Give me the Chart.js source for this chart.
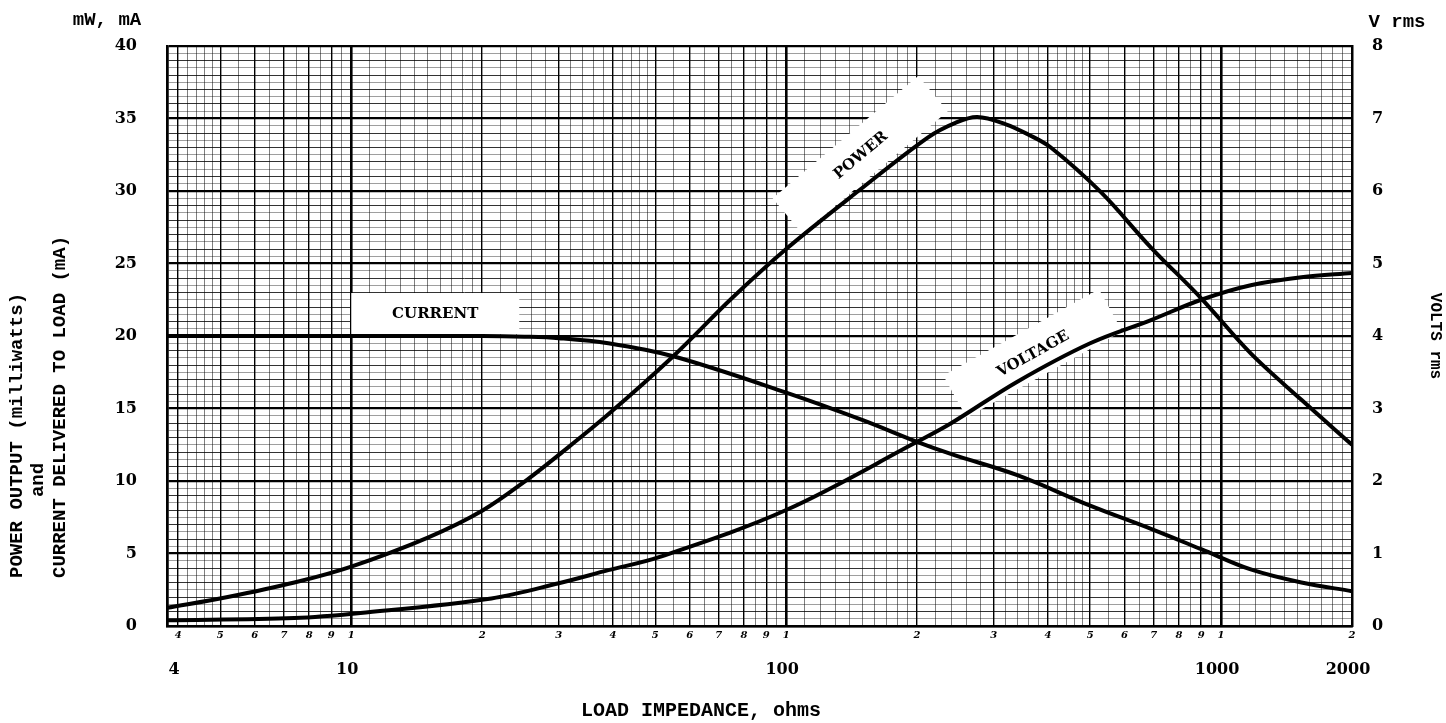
<!DOCTYPE html>
<html>
<head>
<meta charset="utf-8">
<script src="https://cdn.jsdelivr.net/npm/chart.js@4.4.0/dist/chart.umd.min.js"></script>
<style>
html,body{margin:0;padding:0;background:#fff;}
canvas{display:block;}
</style>
</head>
<body>
<canvas id="c" width="1446" height="723" style="width:1446px;height:723px"></canvas>
<script>
// ---------------- data ----------------
const powerLoad   = [3.77, 5.2, 7.4, 10, 15, 20, 25.4, 30, 39, 55, 75, 100, 148, 212, 245, 275, 320, 360, 406, 530, 690, 900, 1170, 1530, 2000];
const powerMW     = [1.25, 2.0, 3.0, 4.1, 6.1, 7.95, 10.1, 11.8, 14.6, 18.6, 22.6, 26.0, 30.1, 33.7, 34.7, 35.1, 34.6, 33.9, 33.0, 29.9, 26.1, 22.6, 18.8, 15.6, 12.5];

const currentLoad = [3.77, 10, 20, 25, 30, 39, 55, 100, 150, 200, 240, 340, 500, 690, 900, 1170, 1530, 2000];
const currentMA   = [20.0, 20.0, 20.0, 19.95, 19.85, 19.5, 18.6, 16.1, 14.2, 12.7, 11.85, 10.4, 8.3, 6.7, 5.3, 3.9, 3.0, 2.4];

const voltageLoad = [3.77, 7.4, 10.5, 21, 30, 39, 51, 100, 200, 240, 340, 500, 690, 900, 1170, 1530, 2000];
const voltageV    = [0.08, 0.11, 0.18, 0.38, 0.59, 0.77, 0.95, 1.6, 2.54, 2.8, 3.37, 3.9, 4.22, 4.5, 4.7, 4.81, 4.87];

const smallTickValues = [4,5,6,7,8,9,10,20,30,40,50,60,70,80,90,100,200,300,400,500,600,700,800,900,1000,2000];
const smallTickLabels = ['4','5','6','7','8','9','1','2','3','4','5','6','7','8','9','1','2','3','4','5','6','7','8','9','1','2'];
const bigTickValues   = [4, 10, 100, 1000, 2000];
const bigTickLabels   = ['4', '10', '100', '1000', '2000'];
const leftTickLabels  = ['0','5','10','15','20','25','30','35','40'];
const rightTickLabels = ['0','1','2','3','4','5','6','7','8'];

const curveNames = ['POWER', 'CURRENT', 'VOLTAGE'];
const leftTitleLines = ['POWER OUTPUT (milliwatts)', 'and', 'CURRENT DELIVERED TO LOAD (mA)'];
const rightTitle = 'VOLTS rms';
const xTitle = 'LOAD IMPEDANCE, ohms';
const leftUnit = 'mW, mA';
const rightUnit = 'V rms';

// ---------------- helpers ----------------
const X_MIN = 3.77, X_MAX = 2000;

function gridValuesX() {
  const set = new Map();
  for (const d of [1, 10, 100, 1000]) {
    const ks = [];
    for (let k = 10; k < 20; k++) ks.push(k);
    for (let k = 20; k < 50; k += 2) ks.push(k);
    for (let k = 50; k <= 100; k += 5) ks.push(k);
    for (const k of ks) {
      const v = k * d / 10;
      if (v >= X_MIN - 1e-9 && v <= X_MAX + 1e-9) set.set(v.toFixed(4), v);
    }
  }
  return [...set.values()].sort((a, b) => a - b);
}
function mant(v) {
  const e = Math.floor(Math.log10(v) + 1e-9);
  return v / Math.pow(10, e);
}
function xKind(v) {
  const m = mant(v);
  if (Math.abs(m - 1) < 1e-6) return 2;
  if (Math.abs(m - Math.round(m)) < 1e-6) return 1;
  return 0;
}
function yKind(v) {
  if (Math.abs(v % 5) < 1e-6) return 2;
  if (Math.abs(v - Math.round(v)) < 1e-6) return 1;
  return 0;
}
const pts = (xs, ys) => xs.map((x, i) => ({x, y: ys[i]}));

// curve labels (anchored in data space: load ohms, left-axis units)
const curveLabels = [
  {text: curveNames[0], at: [148, 32.5], angle: -40, w: 190, h: 46},
  {text: curveNames[1], at: [15.6, 21.55], angle: 0, w: 168, h: 41},
  {text: curveNames[2], at: [369, 18.8], angle: -29, w: 178, h: 48}
];

const decor = {
  id: 'decor',
  beforeDatasetsDraw(chart) {
    const {ctx} = chart;
    const x = chart.scales.x, y = chart.scales.y;
    ctx.save();
    for (const l of curveLabels) {
      const px = x.getPixelForValue(l.at[0]);
      const py = y.getPixelForValue(l.at[1]);
      ctx.save();
      ctx.translate(px, py);
      ctx.rotate(l.angle * Math.PI / 180);
      ctx.fillStyle = '#fff';
      ctx.fillRect(-l.w / 2, -l.h / 2, l.w, l.h);
      ctx.fillStyle = '#000';
      ctx.font = 'bold 15px "DejaVu Serif"';
      ctx.textAlign = 'center';
      ctx.textBaseline = 'middle';
      ctx.fillText(l.text, 0, 1);
      ctx.restore();
    }
    ctx.restore();
  },
  afterDraw(chart) {
    const {ctx} = chart;
    ctx.save();
    ctx.fillStyle = '#000';
    ctx.textBaseline = 'middle';
    ctx.font = 'bold 19px "Liberation Mono"';
    ctx.textAlign = 'center';
    ctx.fillText(leftUnit, 107, 20);
    ctx.fillText(rightUnit, 1397, 22);
    ctx.font = 'bold 20px "Liberation Mono"';
    ctx.fillText(xTitle, 701, 711);
    // left rotated title
    ctx.font = 'bold 19px "Liberation Mono"';
    const lx = [17, 38, 60];
    for (let i = 0; i < 3; i++) {
      ctx.save();
      if (i === 1) {
        ctx.translate(lx[i], 480);
        ctx.rotate(-Math.PI / 2);
        ctx.textAlign = 'center';
      } else {
        ctx.translate(lx[i], 578);
        ctx.rotate(-Math.PI / 2);
        ctx.textAlign = 'left';
      }
      ctx.fillText(leftTitleLines[i], 0, 0);
      ctx.restore();
    }
    ctx.restore();
  }
};

const lineStyle = {borderColor: '#000', borderWidth: 4, pointRadius: 0, fill: false, tension: 0.35, cubicInterpolationMode: 'default'};

const gridX = gridValuesX();

new Chart(document.getElementById('c'), {
  type: 'line',
  data: {
    datasets: [
      Object.assign({label: curveNames[0], data: pts(powerLoad, powerMW), yAxisID: 'y', xAxisID: 'x'}, lineStyle),
      Object.assign({label: curveNames[1], data: pts(currentLoad, currentMA), yAxisID: 'y', xAxisID: 'x'}, lineStyle),
      Object.assign({label: curveNames[2], data: pts(voltageLoad, voltageV), yAxisID: 'y2', xAxisID: 'x'}, lineStyle)
    ]
  },
  options: {
    responsive: false,
    devicePixelRatio: 1,
    animation: false,
    layout: {padding: {top: 46, left: 0, right: 0, bottom: 0}},
    plugins: {legend: {display: false}, tooltip: {enabled: false}},
    scales: {
      x: {
        type: 'logarithmic', position: 'bottom', min: X_MIN, max: X_MAX, weight: 0,
        afterBuildTicks: s => { s.ticks = gridX.map(v => ({value: v})); },
        afterFit: s => { s.height = 22; },
        grid: {
          drawTicks: false,
          color: c => ['rgba(0,0,0,0.5)', '#000', '#000'][xKind(c.tick.value)],
          lineWidth: c => [1, 1.4, 2.6][xKind(c.tick.value)]
        },
        border: {display: true, color: '#000', width: 2.5},
        ticks: {
          autoSkip: false, maxRotation: 0, minRotation: 0, padding: 3, color: '#000',
          font: {family: '"DejaVu Serif"', size: 10, weight: 'bold', style: 'italic'},
          callback: v => {
            const i = smallTickValues.findIndex(t => Math.abs(t - v) < 1e-6);
            return i >= 0 ? smallTickLabels[i] : '';
          }
        }
      },
      x2: {
        type: 'logarithmic', position: 'bottom', min: X_MIN, max: X_MAX, weight: 1,
        afterBuildTicks: s => { s.ticks = bigTickValues.map(v => ({value: v})); },
        afterFit: s => { s.height = 75; },
        grid: {display: false, drawTicks: false},
        border: {display: false},
        ticks: {
          autoSkip: false, maxRotation: 0, minRotation: 0, padding: 12, color: '#000', labelOffset: -4,
          font: {family: '"DejaVu Serif"', size: 16, weight: 'bold'},
          callback: (v, i) => bigTickLabels[i]
        }
      },
      y: {
        type: 'linear', position: 'left', min: 0, max: 40,
        afterFit: s => { s.width = 167; },
        grid: {
          drawTicks: false,
          color: c => ['rgba(0,0,0,0.38)', 'rgba(0,0,0,0.8)', '#000'][yKind(c.tick.value)],
          lineWidth: c => [1, 1, 2.2][yKind(c.tick.value)]
        },
        border: {display: true, color: '#000', width: 2.5},
        ticks: {
          stepSize: 0.5, autoSkip: false, padding: 30, color: '#000',
          font: {family: '"DejaVu Serif"', size: 16, weight: 'bold'},
          callback: v => (Math.abs(v % 5) < 1e-6 ? leftTickLabels[Math.round(v / 5)] : '')
        }
      },
      y2: {
        type: 'linear', position: 'right', min: 0, max: 8,
        afterFit: s => { s.width = 94; },
        grid: {display: false, drawTicks: false},
        border: {display: true, color: '#000', width: 2.5},
        title: {display: true, text: rightTitle, color: '#000', padding: {top: 1, bottom: 0},
                font: {family: '"Liberation Mono"', size: 16, weight: 'bold'}},
        ticks: {
          stepSize: 1, autoSkip: false, padding: 20, color: '#000',
          font: {family: '"DejaVu Serif"', size: 16, weight: 'bold'},
          callback: v => rightTickLabels[Math.round(v)]
        }
      }
    }
  },
  plugins: [decor]
});
</script>
</body>
</html>
